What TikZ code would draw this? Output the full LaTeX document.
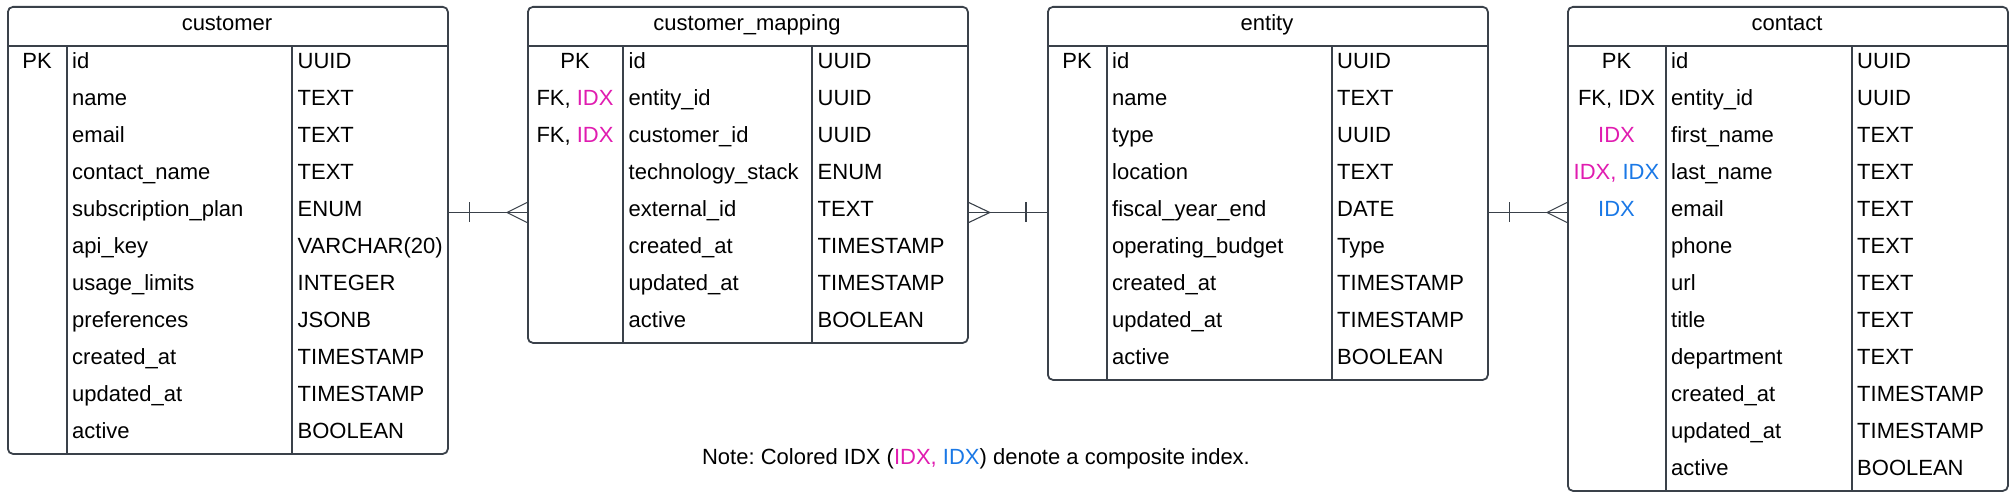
\documentclass[tikz,border=0pt]{standalone}
\usepackage{fontspec}
\setmainfont{Liberation Sans}
\usetikzlibrary{positioning}
\frenchspacing

\definecolor{erline}{HTML}{3A414A}
\definecolor{idxpink}{HTML}{E01CB0}
\definecolor{idxblue}{HTML}{1A78E6}
\newcommand{\pidx}{\textcolor{idxpink}{IDX}}
\newcommand{\bidx}{\textcolor{idxblue}{IDX}}

\begin{document}
\begin{tikzpicture}[x=1pt, y=-1pt,
		font=\fontsize{22}{26}\selectfont,
		tablebox/.style={draw=erline, line width=1.8pt, rounded corners=5pt, anchor=north west, inner sep=0pt},
		tablerule/.style={draw=erline, line width=1.8pt},
		keycell/.style={anchor=base, inner sep=0pt},
		fieldcell/.style={anchor=base west, inner sep=0pt},
		relline/.style={draw=erline, line width=1.1pt}
	]
	\useasboundingbox (0,0) rectangle (2014,497);

	% customer
	\node[tablebox, minimum width=440pt, minimum height=447pt] (customer) at (7,6) {};
	\node[keycell] (customer-title) at (227,30.5) {customer};
	\draw[tablerule] (7,46) -- (447,46) (67,46) -- (67,453) (292,46) -- (292,453);
	\foreach \k/\f/\t [count=\i] in {PK/id/UUID, /name/TEXT, /email/TEXT, /contact\_name/TEXT,
			/subscription\_plan/ENUM, /api\_key/VARCHAR(20), /usage\_limits/INTEGER, /preferences/JSONB,
			/created\_at/TIMESTAMP, /updated\_at/TIMESTAMP, /active/BOOLEAN}{
		\node[keycell] (cust-k\i) at (37,31.8+37*\i) {\k};
		\node[fieldcell] (cust-f\i) at (72,31.8+37*\i) {\f};
		\node[fieldcell] (cust-t\i) at (297.5,31.8+37*\i) {\t};
		\coordinate (cust-r\i) at (227,27.5+37*\i);
	}

	% customer_mapping
	\node[tablebox, minimum width=440pt, minimum height=336pt] (mapping) at (527,6) {};
	\node[keycell] (mapping-title) at (747,30.5) {customer\_mapping};
	\draw[tablerule] (527,46) -- (967,46) (623,46) -- (623,342) (812,46) -- (812,342);
	\foreach \k/\f/\t [count=\i] in {PK/id/UUID, {FK, \pidx}/entity\_id/UUID, {FK, \pidx}/customer\_id/UUID,
			/technology\_stack/ENUM, /external\_id/TEXT, /created\_at/TIMESTAMP, /updated\_at/TIMESTAMP,
			/active/BOOLEAN}{
		\node[keycell] (map-k\i) at (575,31.8+37*\i) {\k};
		\node[fieldcell] (map-f\i) at (628.5,31.8+37*\i) {\f};
		\node[fieldcell] (map-t\i) at (817.5,31.8+37*\i) {\t};
		\coordinate (map-r\i) at (747,27.5+37*\i);
	}

	% entity
	\node[tablebox, minimum width=440pt, minimum height=373pt] (entity) at (1047,6) {};
	\node[keycell] (entity-title) at (1267,30.5) {entity};
	\draw[tablerule] (1047,46) -- (1487,46) (1107,46) -- (1107,379) (1332,46) -- (1332,379);
	\foreach \k/\f/\t [count=\i] in {PK/id/UUID, /name/TEXT, /type/UUID, /location/TEXT,
			/fiscal\_year\_end/DATE, /operating\_budget/Type, /created\_at/TIMESTAMP,
			/updated\_at/TIMESTAMP, /active/BOOLEAN}{
		\node[keycell] (ent-k\i) at (1077,31.8+37*\i) {\k};
		\node[fieldcell] (ent-f\i) at (1112,31.8+37*\i) {\f};
		\node[fieldcell] (ent-t\i) at (1337,31.8+37*\i) {\t};
		\coordinate (ent-r\i) at (1267,27.5+37*\i);
	}

	% contact
	\node[tablebox, minimum width=440pt, minimum height=484pt] (contact) at (1567,6) {};
	\node[keycell] (contact-title) at (1787,30.5) {contact};
	\draw[tablerule] (1567,46) -- (2007,46) (1666,46) -- (1666,490) (1852,46) -- (1852,490);
	\foreach \k/\f/\t [count=\i] in {PK/id/UUID, {FK, IDX}/entity\_id/UUID, \pidx/first\_name/TEXT,
			{\textcolor{idxpink}{IDX,} \bidx}/last\_name/TEXT, \bidx/email/TEXT, /phone/TEXT, /url/TEXT,
			/title/TEXT, /department/TEXT, /created\_at/TIMESTAMP, /updated\_at/TIMESTAMP, /active/BOOLEAN}{
		\node[keycell] (con-k\i) at (1616.5,31.8+37*\i) {\k};
		\node[fieldcell] (con-f\i) at (1671,31.8+37*\i) {\f};
		\node[fieldcell] (con-t\i) at (1857,31.8+37*\i) {\t};
		\coordinate (con-r\i) at (1787,27.5+37*\i);
	}

	% relations: one (bar) to many (crow's foot)
	\draw[relline] (customer.east |- cust-r5) -- (mapping.west |- cust-r5);
	\draw[relline] ([xshift=21pt]customer.east |- cust-r5) ++(0,-10) -- ++(0,20);
	\draw[relline] ([xshift=-20pt]mapping.west |- cust-r5) -- ++(20,-10)
		([xshift=-20pt]mapping.west |- cust-r5) -- ++(20,10);

	\draw[relline] (mapping.east |- map-r5) -- (entity.west |- map-r5);
	\draw[relline] ([xshift=-21pt]entity.west |- map-r5) ++(0,-10) -- ++(0,20);
	\draw[relline] ([xshift=21pt]mapping.east |- map-r5) -- ++(-21,-10)
		([xshift=21pt]mapping.east |- map-r5) -- ++(-21,10);

	\draw[relline] (entity.east |- ent-r5) -- (contact.west |- ent-r5);
	\draw[relline] ([xshift=21pt]entity.east |- ent-r5) ++(0,-10) -- ++(0,20);
	\draw[relline] ([xshift=-20pt]contact.west |- ent-r5) -- ++(20,-10)
		([xshift=-20pt]contact.west |- ent-r5) -- ++(20,10);

	\node[keycell] (note) at (976,464) {Note: Colored IDX (\textcolor{idxpink}{IDX,} \bidx) denote a composite index.};
\end{tikzpicture}
\end{document}
